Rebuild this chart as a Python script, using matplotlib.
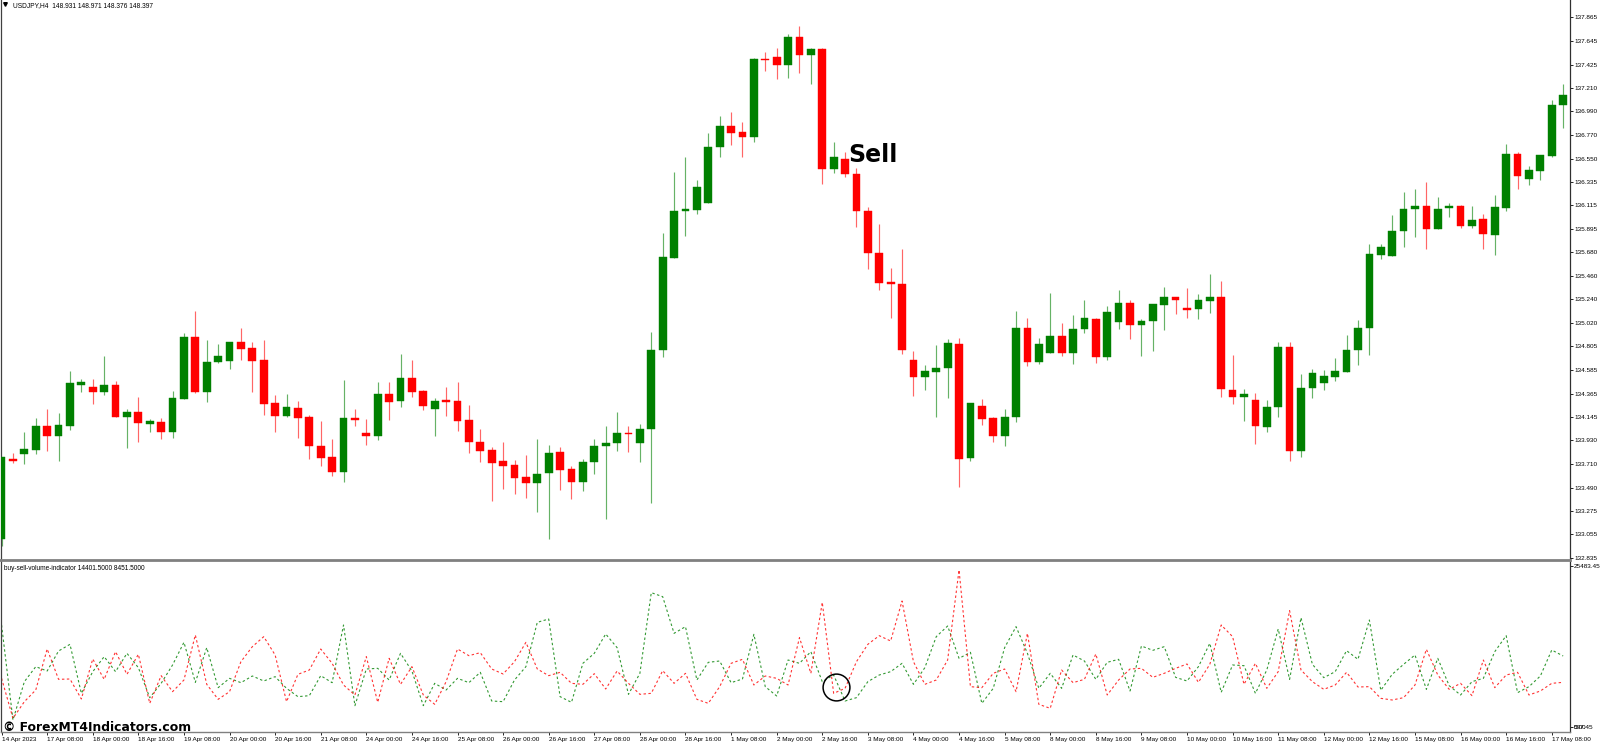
#!/usr/bin/env python3
"""USDJPY H4 candles with the buy/sell volume indicator pane below."""
import matplotlib
matplotlib.use("Agg")
import matplotlib.pyplot as plt
import numpy as np

opens = [
    133.009, 133.753, 133.806, 133.840, 134.063, 133.973, 134.066, 134.447, 134.426, 134.382,
    134.441, 134.147, 134.190, 134.085, 134.097, 134.007, 134.317, 134.891, 134.376, 134.658,
    134.668, 134.844, 134.785, 134.674, 134.277, 134.153, 134.230, 134.143, 133.877, 133.771,
    133.635, 134.137, 133.998, 133.973, 134.361, 134.292, 134.506, 134.388, 134.224, 134.295,
    134.295, 134.119, 133.917, 133.840, 133.737, 133.700, 133.586, 133.536, 133.623, 133.824,
    133.660, 133.542, 133.728, 133.880, 133.902, 133.995, 133.908, 134.035, 134.770, 135.629,
    136.066, 136.073, 136.141, 136.659, 136.851, 136.798, 136.749, 137.474, 137.496, 137.424,
    137.679, 137.511, 137.573, 136.454, 136.544, 136.407, 136.063, 135.669, 135.400, 135.387,
    134.677, 134.522, 134.569, 134.603, 134.826, 133.769, 134.249, 134.138, 133.973, 134.147,
    134.972, 134.662, 134.742, 134.901, 134.742, 134.963, 135.059, 134.708, 135.034, 135.211,
    135.003, 135.040, 135.186, 135.263, 135.161, 135.152, 135.229, 135.263, 134.395, 134.336,
    134.305, 134.057, 134.243, 134.795, 133.834, 134.417, 134.466, 134.522, 134.569, 134.770,
    134.975, 135.657, 135.642, 135.874, 136.085, 136.110, 135.893, 136.088, 136.110, 135.927,
    135.986, 135.840, 136.091, 136.594, 136.364, 136.439, 136.575, 137.049,
]
highs = [
    133.771, 133.812, 134.004, 134.134, 134.218, 134.181, 134.574, 134.500, 134.500, 134.714,
    134.478, 134.218, 134.329, 134.125, 134.137, 134.385, 134.925, 135.136, 134.860, 134.826,
    134.844, 134.971, 134.841, 134.863, 134.354, 134.360, 134.292, 134.162, 134.109, 133.939,
    134.494, 134.221, 134.125, 134.472, 134.472, 134.733, 134.674, 134.398, 134.323, 134.423,
    134.472, 134.255, 134.035, 133.871, 133.917, 133.743, 133.793, 133.942, 133.883, 133.865,
    133.691, 133.753, 133.942, 134.063, 134.197, 134.063, 134.079, 134.938, 135.855, 136.426,
    136.562, 136.352, 136.786, 136.944, 136.984, 136.891, 137.490, 137.542, 137.580, 137.707,
    137.781, 137.580, 137.580, 136.705, 136.609, 136.460, 136.104, 135.939, 135.533, 135.707,
    134.758, 134.628, 134.817, 134.873, 134.879, 134.274, 134.314, 134.150, 134.218, 135.133,
    135.071, 134.879, 135.297, 135.018, 135.093, 135.232, 135.065, 135.177, 135.329, 135.232,
    135.056, 135.198, 135.356, 135.263, 135.344, 135.288, 135.477, 135.415, 134.721, 134.404,
    134.370, 134.308, 134.845, 134.845, 134.547, 134.594, 134.581, 134.693, 134.907, 135.049,
    135.753, 135.753, 136.026, 136.243, 136.271, 136.330, 136.197, 136.138, 136.116, 136.107,
    136.039, 136.212, 136.687, 136.609, 136.482, 136.587, 137.096, 137.245,
]
lows = [
    132.947, 133.719, 133.706, 133.799, 133.830, 133.737, 134.026, 134.382, 134.268, 134.354,
    134.143, 133.858, 133.911, 134.007, 133.942, 133.951, 134.311, 134.370, 134.289, 134.649,
    134.593, 134.674, 134.382, 134.168, 134.007, 134.147, 133.951, 133.753, 133.691, 133.598,
    133.545, 134.063, 133.886, 133.933, 134.122, 134.240, 134.329, 134.212, 133.973, 134.156,
    134.016, 133.812, 133.725, 133.368, 133.480, 133.433, 133.390, 133.263, 133.015, 133.468,
    133.387, 133.455, 133.617, 133.198, 133.834, 133.821, 133.728, 133.350, 134.708, 135.629,
    135.834, 136.038, 136.141, 136.562, 136.680, 136.569, 136.702, 137.362, 137.291, 137.297,
    137.347, 137.248, 136.317, 136.420, 136.383, 135.911, 135.524, 135.331, 135.065, 134.736,
    134.342, 134.398, 134.150, 134.327, 133.496, 133.741, 134.073, 133.914, 133.877, 134.101,
    134.622, 134.643, 134.742, 134.718, 134.643, 134.932, 134.653, 134.674, 134.966, 134.873,
    134.718, 134.761, 134.953, 135.105, 135.065, 135.059, 135.118, 134.336, 134.268, 134.113,
    133.893, 134.008, 134.150, 133.741, 133.778, 134.327, 134.398, 134.482, 134.569, 134.628,
    134.721, 135.620, 135.642, 135.728, 135.822, 135.707, 135.893, 136.008, 135.908, 135.908,
    135.713, 135.654, 136.066, 136.265, 136.305, 136.355, 136.569, 136.835,
]
closes = [
    133.771, 133.734, 133.846, 134.063, 133.967, 134.072, 134.460, 134.472, 134.382, 134.447,
    134.143, 134.190, 134.091, 134.109, 134.010, 134.323, 134.891, 134.382, 134.658, 134.714,
    134.841, 134.779, 134.668, 134.271, 134.153, 134.243, 134.137, 133.880, 133.768, 133.635,
    134.137, 134.119, 133.973, 134.361, 134.289, 134.506, 134.376, 134.252, 134.295, 134.289,
    134.112, 133.914, 133.830, 133.722, 133.694, 133.582, 133.536, 133.620, 133.809, 133.657,
    133.545, 133.731, 133.877, 133.902, 133.995, 133.986, 134.035, 134.770, 135.632, 136.063,
    136.079, 136.283, 136.659, 136.851, 136.789, 136.749, 137.474, 137.465, 137.424, 137.679,
    137.511, 137.567, 136.451, 136.562, 136.404, 136.060, 135.669, 135.397, 135.387, 134.770,
    134.522, 134.572, 134.606, 134.832, 133.756, 134.274, 134.131, 133.967, 134.150, 134.978,
    134.662, 134.826, 134.901, 134.742, 134.966, 135.065, 134.708, 135.124, 135.211, 135.003,
    135.043, 135.198, 135.263, 135.232, 135.142, 135.235, 135.263, 134.404, 134.336, 134.364,
    134.066, 134.243, 134.798, 133.834, 134.414, 134.560, 134.529, 134.575, 134.770, 134.978,
    135.660, 135.728, 135.877, 136.085, 136.110, 135.896, 136.085, 136.110, 135.921, 135.980,
    135.846, 136.104, 136.594, 136.386, 136.442, 136.581, 137.049, 137.142,
]

buy_volume = [
    16367, 1681, 7607, 9925, 9255, 12347, 13378, 5803, 9153, 11472,
    9153, 11987, 9771, 5133, 7349, 10183, 13687, 7504, 12863, 6679,
    8122, 7452, 8483, 7710, 8380, 6576, 5288, 5442, 8534, 7452,
    16367, 3896, 9565, 9668, 7864, 11987, 9255, 3896, 7349, 6318,
    8122, 7452, 9049, 4618, 4515, 7864, 9925, 16779, 17294, 5288,
    4412, 10441, 11987, 14975, 12863, 5649, 8895, 21365, 20747, 15079,
    16109, 7864, 10595, 10802, 7452, 8019, 14924, 6834, 5391, 10956,
    10441, 12244, 7607, 8637, 4618, 5133, 7607, 8637, 9153, 10441,
    7194, 9771, 14563, 16212, 11214, 12141, 4257, 6576, 12863, 16109,
    11987, 6576, 8895, 6576, 11729, 10802, 7967, 10595, 11059, 6164,
    13120, 12450, 13017, 8276, 7710, 9925, 13533, 5958, 10183, 10080,
    5803, 9410, 15748, 7967, 17500, 10286, 8225, 9153, 12399, 11059,
    17140, 6267, 8740, 10286, 11729, 6421, 11214, 6988, 5546, 7607,
    8122, 12244, 14718, 5906, 6834, 8483, 12502, 11574,
]
sell_volume = [
    8122, 1938, 4515, 6318, 12657, 7967, 8019, 4927, 11111, 7967,
    12244, 8740, 11832, 4257, 8534, 6061, 7864, 14821, 7194, 4876,
    6061, 10698, 13017, 14563, 11729, 4515, 8740, 9410, 12657, 10441,
    7091, 5546, 11472, 4412, 11214, 7194, 9925, 5546, 4103, 7607,
    12657, 11626, 12090, 9565, 8792, 10698, 13687, 9565, 8534, 9049,
    7349, 7194, 8843, 6473, 9255, 7349, 5649, 5803, 9307, 7349,
    8895, 4876, 4257, 6834, 10441, 11059, 7091, 8483, 8122, 7091,
    14409, 8895, 19871, 5803, 6576, 10698, 13378, 14718, 13893, 20077,
    10698, 7194, 7864, 10956, 24869, 6834, 6679, 8895, 9565, 6061,
    15079, 4103, 3484, 9410, 7452, 7967, 11883, 5546, 7864, 9565,
    9668, 8276, 8895, 9668, 10338, 7504, 10286, 16367, 14563, 7194,
    10441, 6576, 9153, 18583, 9410, 7607, 6421, 7091, 9049, 6782,
    6834, 5030, 4772, 5133, 7091, 12605, 8637, 6421, 7349, 5442,
    10956, 6679, 8637, 9049, 5546, 6164, 7349, 7504,
]

price_ticks = [
    "137.865", "137.645", "137.425", "137.210", "136.990", "136.770", "136.550", "136.335",
    "136.115", "135.895", "135.680", "135.460", "135.240", "135.020", "134.805", "134.585",
    "134.365", "134.145", "133.930", "133.710", "133.490", "133.275", "133.055", "132.835",
]
date_labels = [
    "14 Apr 2023", "17 Apr 08:00", "18 Apr 00:00", "18 Apr 16:00", "19 Apr 08:00",
    "20 Apr 00:00", "20 Apr 16:00", "21 Apr 08:00", "24 Apr 00:00", "24 Apr 16:00",
    "25 Apr 08:00", "26 Apr 00:00", "26 Apr 16:00", "27 Apr 08:00", "28 Apr 00:00",
    "28 Apr 16:00", "1 May 08:00", "2 May 00:00", "2 May 16:00", "3 May 08:00",
    "4 May 00:00", "4 May 16:00", "5 May 08:00", "8 May 00:00", "8 May 16:00",
    "9 May 08:00", "10 May 00:00", "10 May 16:00", "11 May 08:00", "12 May 00:00",
    "12 May 16:00", "15 May 08:00", "16 May 00:00", "16 May 16:00", "17 May 08:00",
]

W, H = 1600, 745
GREEN = "#008000"
RED = "#ff0000"
FONT = "Liberation Sans"
TICK_SIZE = 4.6


def pane(fig, top, bottom, left=1, right=1570):
    """Axes from pixel edges, y counted down from the top of the image."""
    return fig.add_axes([left / W, 1 - bottom / H, (right - left) / W, (bottom - top) / H])


def draw_candles(ax):
    x = np.arange(len(opens))
    o, h, l, c = map(np.array, (opens, highs, lows, closes))
    colors = np.where(c >= o, GREEN, RED)
    ax.vlines(x, l, h, colors=colors, lw=0.85, alpha=0.6, zorder=2)
    ax.bar(x, np.maximum(np.abs(c - o), 0.014), bottom=np.minimum(o, c), width=0.68,
           color=colors, linewidth=0.3, edgecolor=colors, zorder=3)


def main():
    fig = plt.figure(figsize=(W / 100, H / 100), dpi=100, facecolor="white")
    n = len(opens)
    xlim = (-0.05, 137.6)

    ax = pane(fig, 0, 559)
    draw_candles(ax)
    ax.set_xlim(xlim)
    ax.set_ylim(132.826, 138.026)
    ax.yaxis.tick_right()
    ax.set_yticks([float(t) for t in price_ticks], labels=price_ticks, fontsize=TICK_SIZE, family=FONT)
    ax.tick_params(axis="y", length=2, width=0.6, pad=1)
    ax.set_xticks([])
    ax.text(0.0075, 0.9905, "USDJPY,H4  148.931 148.971 148.376 148.397", transform=ax.transAxes,
            fontsize=4.75, family=FONT, va="center", ha="left")
    ax.plot([0.0028], [0.992], marker="v", ms=2.6, color="black", transform=ax.transAxes)
    ax.text(74.3, 136.58, "Sell", fontsize=17, fontweight="bold", family="DejaVu Sans", va="center")

    ax2 = pane(fig, 561, 732)
    x = np.arange(n)
    ax2.plot(x, buy_volume, color=GREEN, lw=0.8, ls=(0, (2.2, 2.2)), alpha=0.8)
    ax2.plot(x, sell_volume, color=RED, lw=0.8, ls=(0, (2.2, 2.2)), alpha=0.8)
    ax2.plot([73.2], [6834], marker="o", ms=19.3, mfc="none", mec="black", mew=1.1)
    ax2.set_xlim(xlim)
    ax2.set_ylim(-175, 26260)
    ax2.yaxis.tick_right()
    ax2.set_yticks([25483.45, 597.45], labels=["25483.45", "597.45"], fontsize=TICK_SIZE, family=FONT)
    ax2.tick_params(axis="y", length=2, width=0.6, pad=1)
    # the platform prints its two bottom scale values on top of each other
    ax2.text(1.0024, 597.45, "0.00", transform=ax2.get_yaxis_transform(), fontsize=TICK_SIZE,
             family=FONT, va="center")
    ax2.set_xticks(np.arange(0, n, 4), labels=date_labels, fontsize=TICK_SIZE, family=FONT, ha="left")
    ax2.tick_params(axis="x", length=2, width=0.6, pad=1.5)
    ax2.text(0.0017, 0.957, "buy-sell-volume-indicator 14401.5000 8451.5000", transform=ax2.transAxes,
             fontsize=4.7, family=FONT, va="center")
    ax2.text(0.0015, 0.028, "© ForexMT4Indicators.com", transform=ax2.transAxes, fontsize=8.9,
             fontweight="bold", family="DejaVu Sans", va="center", clip_on=False)

    for a in (ax, ax2):
        a.spines["top"].set_visible(False)
        a.spines["left"].set_color("#404040")
        a.spines["right"].set_color("#303030")
        a.spines["bottom"].set_visible(False)
        for sp in ("left", "right"):
            a.spines[sp].set_linewidth(0.9)
    ax2.spines["bottom"].set_visible(True)
    ax2.spines["bottom"].set_color("#808080")
    ax2.spines["bottom"].set_linewidth(1.0)

    # grey splitter between the two panes
    fig.add_artist(plt.Line2D([0, 1570 / W], [1 - 560 / H] * 2, color="#808080", lw=2.0))

    fig.savefig("out.png", dpi=100)
    plt.close(fig)


if __name__ == "__main__":
    main()
